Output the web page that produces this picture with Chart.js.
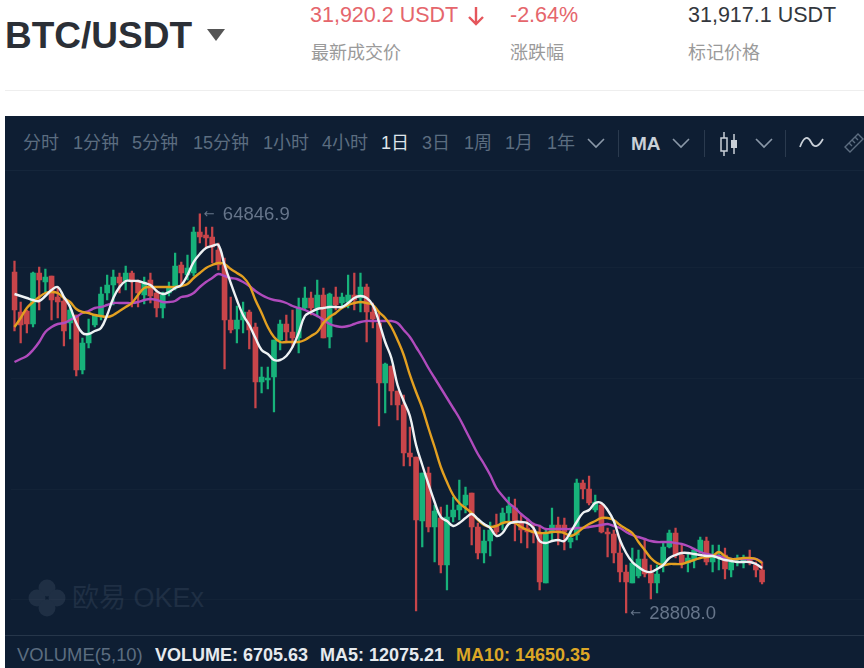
<!DOCTYPE html>
<html>
<head>
<meta charset="utf-8">
<script src="https://cdn.jsdelivr.net/npm/chart.js@4/dist/chart.umd.min.js"></script>
<style>
  html, body { margin: 0; padding: 0; background: #fff; overflow: hidden; }
  body { width: 864px; height: 668px; position: relative; font-family: "Liberation Sans", "Noto Sans CJK SC", sans-serif; }
  .t { position: absolute; white-space: nowrap; line-height: 1; }
  .lab { color: #9a9a9a; font-size: 18px; top: 44px; }
  .tool { color: #5c6d80; font-size: 18px; top: 134px; }
  #panel { position: absolute; left: 5px; top: 116px; width: 859px; height: 552px; background: #0e1e33; }
  #chart { position: absolute; left: 5px; top: 171px; }
  .sep { position: absolute; top: 130px; width: 1px; height: 27px; background: #2a3a4e; }
  svg { position: absolute; }
</style>
</head>
<body>

<div class="t" style="left:5px;top:17px;font-size:37px;font-weight:bold;color:#2b2f36">BTC/USDT</div>
<svg style="left:207px;top:29px" width="18" height="13"><polygon points="0,0 18,0 9,12" fill="#555"/></svg>

<div class="t" style="left:310px;top:5px;font-size:21.5px;color:#e5666c">31,920.2 USDT</div>
<svg style="left:466px;top:6px" width="20" height="20"><path d="M10 1V18M3 11L10 18L17 11" fill="none" stroke="#e5565c" stroke-width="2.4"/></svg>
<div class="t" style="left:510px;top:5px;font-size:21.5px;color:#e5666c">-2.64%</div>
<div class="t" style="left:688px;top:5px;font-size:21.5px;color:#33373d">31,917.1 USDT</div>
<div class="t lab" style="left:311px">最新成交价</div>
<div class="t lab" style="left:510px">涨跌幅</div>
<div class="t lab" style="left:688px">标记价格</div>
<div style="position:absolute;left:5px;top:90px;width:859px;height:1px;background:#eeeeee"></div>

<div id="panel"></div>
<div style="position:absolute;left:5px;top:170px;width:859px;height:1px;background:#15263b"></div>
<div style="position:absolute;left:5px;top:635px;width:859px;height:1px;background:#26364a"></div>

<div class="t tool" style="left:23px">分时</div>
<div class="t tool" style="left:73px">1分钟</div>
<div class="t tool" style="left:132px">5分钟</div>
<div class="t tool" style="left:193px">15分钟</div>
<div class="t tool" style="left:263px">1小时</div>
<div class="t tool" style="left:322px">4小时</div>
<div class="t tool" style="left:381px;color:#dfe4ea">1日</div>
<div class="t tool" style="left:422px">3日</div>
<div class="t tool" style="left:464px">1周</div>
<div class="t tool" style="left:505px">1月</div>
<div class="t tool" style="left:547px">1年</div>
<svg style="left:587px;top:138px" width="18" height="11"><path d="M1 1L9 9L17 1" fill="none" stroke="#8a98a8" stroke-width="1.6"/></svg>
<div class="sep" style="left:618px"></div>
<div class="t tool" style="left:631px;color:#c9d0d8;font-weight:bold;font-size:19px">MA</div>
<svg style="left:672px;top:138px" width="18" height="11"><path d="M1 1L9 9L17 1" fill="none" stroke="#8a98a8" stroke-width="1.6"/></svg>
<div class="sep" style="left:704px"></div>
<svg style="left:718px;top:131px" width="22" height="26"><path d="M6 1V25M16 3V23" stroke="#c9d0d8" stroke-width="1.5"/><rect x="3" y="7" width="6" height="13" fill="#0e1e33" stroke="#c9d0d8" stroke-width="1.5"/><rect x="13" y="9" width="6" height="8" fill="#c9d0d8"/></svg>
<svg style="left:755px;top:138px" width="18" height="11"><path d="M1 1L9 9L17 1" fill="none" stroke="#8a98a8" stroke-width="1.6"/></svg>
<div class="sep" style="left:785px"></div>
<svg style="left:799px;top:135px" width="25" height="16"><path d="M1 12C5 1 9 1 12 7S19 13 24 4" fill="none" stroke="#c9d0d8" stroke-width="1.7"/></svg>
<svg style="left:843px;top:132px" width="21" height="24"><path d="M2 15L15 2L20 7L7 20ZM6 11L9 14M9 8L12 11M12 5L15 8" fill="none" stroke="#5c6d80" stroke-width="1.4"/></svg>

<!-- filigrane -->
<svg style="left:27px;top:578px" width="40" height="40"><g fill="#1f2f44"><circle cx="20" cy="10" r="8.5"/><circle cx="10" cy="20" r="8.5"/><circle cx="30" cy="20" r="8.5"/><circle cx="20" cy="30" r="8.5"/></g></svg>
<div class="t" style="left:72px;top:585px;font-size:27px;color:#1f2f44">欧易 OKEx</div>

<canvas id="chart" width="859" height="464"></canvas>

<div class="t" style="left:17px;top:646px;font-size:18.4px;color:#5c6d80">VOLUME(5,10)</div>
<div class="t" style="left:155px;top:646px;font-size:18px;font-weight:bold;color:#e6eaee">VOLUME: 6705.63</div>
<div class="t" style="left:320px;top:646px;font-size:18px;font-weight:bold;color:#e6eaee">MA5: 12075.21</div>
<div class="t" style="left:456px;top:646px;font-size:18px;font-weight:bold;color:#dca726">MA10: 14650.35</div>

<script>
// bougies journalieres BTC/USDT
const opens = [
  59600,55988,56079,54905,59510,58697,59239,57343,56982,54995,
  55717,50751,53189,54815,55537,57704,58426,59149,58788,59510,
  58697,57524,58878,57704,56350,57704,58245,60233,59329,59510,
  63212,62941,62761,61587,60233,55266,54453,55266,55988,54634,
  49667,49848,50119,53460,54905,54182,53640,56350,57253,56350,
  57524,53730,57343,56801,56891,57524,57253,58245,55988,54995,
  49577,51112,48855,47590,43256,42895,37116,41450,36574,37387,
  33143,37477,38109,38561,39644,36574,34226,35310,36755,36935,
  37838,38290,36935,36484,36303,36032,31517,36122,36755,36755,
  35219,35851,40547,40006,38109,38561,36122,35942,34226,32510,
  31517,32149,33684,32420,31517,33143,34768,36032,34045,33323,
  33594,34316,35310,33413,33775,34045,32691,33594,33504,33684,
  33143,32691
];
const closes = [
  56169,54815,54905,59510,58878,59149,57072,56891,54273,56169,
  50751,53189,54092,55717,57614,58426,59149,58607,59510,58878,
  57704,58697,57433,56350,57524,58245,60142,59510,59962,63212,
  62761,62670,61858,60233,55266,54363,55266,55988,54363,49667,
  50119,50029,53460,54905,54182,53640,56350,57253,56350,57524,
  53640,57614,56620,57343,57524,57072,58245,55988,55356,49577,
  51293,48855,47590,43256,42895,37206,41450,36574,38019,33143,
  37477,38109,38561,39464,36574,34226,35310,36303,36122,37838,
  38470,36935,36303,36122,36032,31608,36032,36755,36122,36122,
  35581,40547,40006,38741,38832,36122,35942,34226,32510,31608,
  33323,33684,32330,31517,32330,34768,36032,34045,33323,33775,
  34497,35400,33413,34045,34045,32781,33413,33775,33684,33323,
  32691,31608
];
const highs = [
  60594,56891,56169,59600,60052,59871,59239,58245,57253,56620,
  55717,53640,55356,55717,58245,59329,59781,59510,60142,59691,
  58878,59149,59510,57975,57794,58697,61316,60504,61136,63664,
  64846.9,63664,63664,62219,60865,57343,56530,56891,56169,54995,
  51022,51022,53460,55266,55717,56169,57253,58245,57794,58878,
  58155,57704,58245,57704,59329,59510,59510,58517,56801,55988,
  51383,51112,48855,48493,45604,42895,41450,41992,38561,38380,
  38561,39283,40818,40186,39644,36935,36303,37025,37748,38290,
  39283,39103,37657,37206,36935,36755,36303,38290,37477,37387,
  36303,40908,40818,41179,39464,38741,36484,36303,35400,33143,
  34678,34497,35400,33143,33143,35129,36303,36484,34949,34226,
  34678,35671,35671,34949,34949,34678,33594,34045,34045,34497,
  33413,33413
];
const lows = [
  54273,53189,54092,54634,56169,57794,55266,55447,52918,53550,
  50209,50390,52738,54634,55266,57072,56620,57704,57975,56440,
  56440,56711,56801,55537,55447,57433,57975,58517,58878,59239,
  62219,61768,60413,59781,50841,54092,53189,54092,52647,47320,
  48674,49035,46958,52557,53189,52828,52286,56169,55717,55537,
  53640,52738,56169,56350,56350,56169,55988,53279,54544,45694,
  46868,47590,46236,42082,42082,28990,34768,36122,33413,32420,
  30885,37025,37206,37838,34949,33684,33323,33955,35851,36303,
  36935,35310,35129,34678,35129,30885,31517,35400,34949,34497,
  34678,35400,39103,38561,37928,36032,33865,33323,31608,28808,
  31517,31969,32059,30072,30614,32510,34678,33775,32872,32510,
  32872,34226,33143,32510,32691,31879,32059,33052,32872,33143,
  32059,31427
];
const ma5 = [
  57614,57433,57253,57072,56982,57433,57975,58245,57343,56440,
  54995,54092,54002,54273,54544,55717,57253,58245,58788,58788,
  58788,58607,58426,57885,57614,57794,58155,58426,59329,60504,
  61226,61768,61948,62039,60233,58607,57072,55717,54815,53640,
  52557,52196,51654,51654,52015,52828,54092,55627,55988,56259,
  56350,56440,56440,56440,56801,57253,57433,57253,56620,55085,
  53279,51835,49397,47952,46597,43979,42173,40457,38832,37477,
  37116,36664,36935,37387,37748,37296,36845,36484,35761,36032,
  36845,37025,37025,36935,36484,35310,35129,35310,35400,35310,
  36122,37025,37838,38109,38741,38741,38109,37116,35400,34226,
  33413,32962,32601,32510,32781,33143,33775,34045,34226,34226,
  34136,34045,33955,33955,33775,33594,33504,33413,33413,33413,
  33233,32872
];
const ma10 = [
  54634,55447,56350,56891,57343,57704,57794,57704,57253,56891,
  56259,55988,55898,55717,55627,55537,55717,56079,56440,56801,
  57524,58155,58245,58245,58245,58245,58245,58336,58517,59058,
  59510,59962,60233,60413,60323,59871,59510,59149,58426,57072,
  55898,54634,53731,53279,53279,53279,53279,53460,53821,54182,
  54995,55537,55898,56350,56620,56801,56891,56801,56620,55988,
  55447,54634,53460,52106,50301,48764,47320,45514,43798,41992,
  40637,39464,38741,38290,37838,37206,36755,36574,36664,36935,
  37025,36935,36574,36303,36122,36032,36032,36122,36122,36032,
  35761,36032,36484,36845,37116,37387,37387,37206,36755,36393,
  36032,35219,34497,33775,33323,33143,33233,33233,33233,33413,
  33594,33775,33865,33955,34316,33955,33684,33684,33775,33775,
  33684,33323
];
const ma30 = [
  51473,51744,52015,52557,53279,54182,54634,54905,54995,55266,
  55537,55898,56079,56350,56440,56620,56801,56801,56801,56801,
  56891,57072,57162,57072,56891,56891,56982,57343,57433,57704,
  58245,58697,59058,59420,59239,59058,58968,58697,58336,57885,
  57524,57253,57072,56982,56801,56530,56350,56169,55898,55627,
  55266,54905,54724,54634,54724,54905,55085,55176,55176,55176,
  55176,55176,54995,54363,53731,52828,51925,50932,50029,49126,
  48223,47320,46417,45333,44249,43166,42263,41269,40096,39373,
  38741,38290,37748,37296,36845,36664,36393,36393,36393,36393,
  36393,36484,36484,36574,36664,36755,36845,36664,36484,36122,
  35851,35671,35490,35310,35219,35219,35219,35129,35039,34858,
  34587,34316,34136,34045,33955,33775,33684,33684,33684,33684,
  33684,33413
];
const gridPrices = [30000, 40000, 50000, 60000];
// 122 jours + 16 vides a droite
const days = Array.from({ length: 138 }, (_, i) => i);

const RED = '#c8454a';
const GREEN = '#17b27a';
const candleColors = opens.map((o, i) => closes[i] >= o ? GREEN : RED);

// les deux etiquettes max / min a cote des meches
const extremes = {
  id: 'extremes',
  afterDatasetsDraw(chart) {
    const { ctx, scales } = chart;
    const hi = highs.indexOf(Math.max(...highs));
    const lo = lows.indexOf(Math.min(...lows));
    ctx.save();
    ctx.fillStyle = '#66758a';
    ctx.textBaseline = 'middle';
    [[hi, highs[hi]], [lo, lows[lo]]].forEach(([i, v]) => {
      const x = scales.x.getPixelForValue(i) + 5;
      const y = scales.y.getPixelForValue(v) + 1;
      ctx.font = '13px "DejaVu Sans"';
      ctx.fillText('←', x - 1, y);
      ctx.font = '18.5px "Liberation Sans"';
      ctx.fillText(v.toFixed(1), x + 18, y);
    });
    ctx.restore();
  }
};

new Chart(document.getElementById('chart'), {
  type: 'bar',
  data: {
    labels: days,
    datasets: [
      { type: 'line', data: ma5, borderColor: '#eef2f4', borderWidth: 2.4, pointRadius: 0, tension: 0.4, order: 1 },
      { type: 'line', data: ma10, borderColor: '#e3a021', borderWidth: 2.4, pointRadius: 0, tension: 0.4, order: 2 },
      { type: 'line', data: ma30, borderColor: '#b04bbd', borderWidth: 2.4, pointRadius: 0, tension: 0.4, order: 3 },
      { data: opens.map((o, i) => [o, closes[i]]), backgroundColor: candleColors, barThickness: 5, grouped: false, order: 4 },
      { data: lows.map((l, i) => [l, highs[i]]), backgroundColor: candleColors, barThickness: 1.6, grouped: false, order: 5 }
    ]
  },
  options: {
    responsive: false,
    animation: false,
    layout: { padding: { left: 6.4 } },
    plugins: { legend: { display: false }, tooltip: { enabled: false } },
    scales: {
      x: { display: false, offset: true },
      y: {
        min: 26822,
        max: 68721,
        afterBuildTicks(axis) { axis.ticks = gridPrices.map(value => ({ value })); },
        ticks: { display: false },
        border: { display: false },
        grid: { color: 'rgba(255,255,255,0.025)', drawTicks: false }
      }
    }
  },
  plugins: [extremes]
});
</script>
</body>
</html>
